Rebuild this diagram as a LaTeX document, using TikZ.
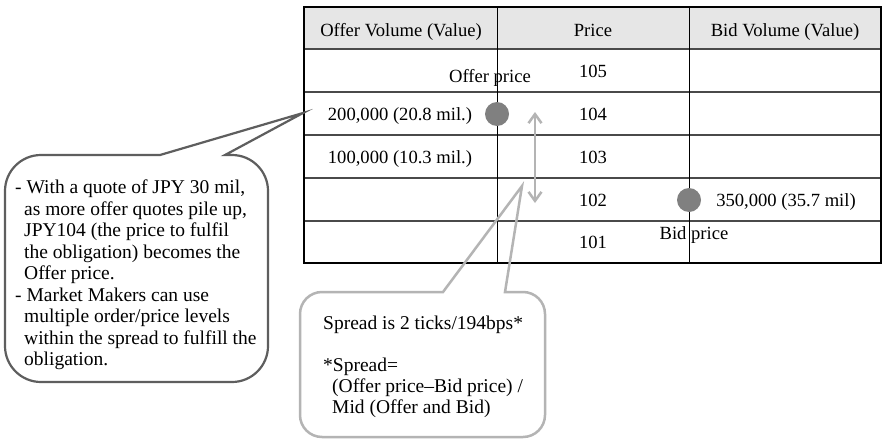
\documentclass[tikz,border=0pt]{standalone}
\usepackage{fontspec}
\setmainfont{Liberation Serif}[Ligatures=NoCommon]
\usetikzlibrary{arrows.meta}

\definecolor{hdrgrey}{HTML}{E6E6E6}
\definecolor{dotgrey}{HTML}{808080}
\definecolor{sprgrey}{HTML}{B4B4B4}
\definecolor{callgrey}{HTML}{5E5E5E}
\definecolor{rulegrey}{HTML}{4A4A4A}

\tikzset{
  cell/.style={anchor=base, inner sep=0pt, font=\fontsize{18.6}{22}\selectfont},
  dot/.style={circle, fill=dotgrey, draw=none, minimum size=24pt, inner sep=0pt},
  rowrule/.style={draw=rulegrey, line width=1.4pt},
  colrule/.style={draw=black, line width=0.9pt},
  frame/.style={draw=black, line width=1.2pt},
  lcall/.style={draw=callgrey, line width=2.2pt, line join=miter},
  scall/.style={draw=sprgrey, line width=2.5pt, line join=miter},
  sparrow/.style={draw=sprgrey, line width=2.5pt,
    {Straight Barb[length=9pt,width=13pt]}-{Straight Barb[length=9pt,width=13pt]}},
  % multi-line nodes: the base anchor sits on the last line
  calltext/.style={anchor=base west, inner sep=0pt, align=left,
    font=\fontsize{19.5}{21.5}\selectfont},
  spreadtext/.style={anchor=base west, inner sep=0pt, align=left,
    font=\fontsize{19.5}{21}\selectfont},
}

\begin{document}
\begin{tikzpicture}[x=1pt, y=1pt]
  \useasboundingbox[fill=white] (0,0) rectangle (888,-439);

  % order book table
  \fill[hdrgrey] (304,-7) rectangle (881,-49);
  \foreach \yy in {49,92,135,178,221} {
    \draw[rowrule] (304,-\yy) -- (881,-\yy);
  }
  \draw[colrule] (497,-7) -- (497,-263);
  \draw[colrule] (689,-7) -- (689,-263);
  \draw[frame] (304,-7) rectangle (881,-263);

  % header
  \node[cell] (hoffer) at (401,-36) {Offer Volume (Value)};
  \node[cell] (hprice) at (593,-36) {Price};
  \node[cell] (hbid)   at (785,-36) {Bid Volume (Value)};

  % price ladder
  \node[cell] (p105) at (593,-77)  {105};
  \node[cell] (p104) at (593,-120) {104};
  \node[cell] (p103) at (593,-163) {103};
  \node[cell] (p102) at (593,-206) {102};
  \node[cell] (p101) at (593,-248) {101};

  % quotes
  \node[cell] (q104) at (400,-120) {200,000 (20.8 mil.)};
  \node[cell] (q103) at (400,-163) {100,000 (10.3 mil.)};
  \node[cell] (q102) at (786,-206) {350,000 (35.7 mil)};

  % best prices
  \node[cell] (offerlbl) at (490,-82)  {Offer price};
  \node[cell] (bidlbl)   at (694,-239) {Bid price};
  \node[dot] (offerdot) at (497,-114) {};
  \node[dot] (biddot)   at (689,-200) {};

  % spread arrow
  \coordinate (sprtop) at (535,-112);
  \coordinate (sprbot) at (535,-203);
  \draw[sparrow] (sprtop) -- (sprbot);

  % left callout
  \draw[lcall] (160,-155) -- (303,-113) -- (225,-155) -- (232,-155)
    arc[start angle=90, end angle=0, radius=36] -- (268,-346)
    arc[start angle=0, end angle=-90, radius=36] -- (41,-382)
    arc[start angle=270, end angle=180, radius=36] -- (5,-191)
    arc[start angle=180, end angle=90, radius=36] -- cycle;
  \node[calltext] (obligation) at (15,-365.5) {%
    - With a quote of JPY 30 mil,\\
    \hspace*{9pt}as more offer quotes pile up,\\
    \hspace*{9pt}JPY104 (the price to fulfil\\
    \hspace*{9pt}the obligation) becomes the\\
    \hspace*{9pt}Offer price.\\
    - Market Makers can use\\
    \hspace*{9pt}multiple order/price levels\\
    \hspace*{9pt}within the spread to fulfill the\\
    \hspace*{9pt}obligation.};

  % spread callout
  \draw[scall] (443,-292) -- (522,-186) -- (505,-292) -- (523,-292)
    arc[start angle=90, end angle=0, radius=22] -- (545,-415)
    arc[start angle=0, end angle=-90, radius=22] -- (322,-437)
    arc[start angle=270, end angle=180, radius=22] -- (300,-314)
    arc[start angle=180, end angle=90, radius=22] -- cycle;
  \node[spreadtext] (spreadnote) at (323,-413.5) {%
    Spread is 2 ticks/194bps*\\[21pt]
    *Spread=\\
    \hspace*{9pt}(Offer price–Bid price) /\\
    \hspace*{9pt}Mid (Offer and Bid)};
\end{tikzpicture}
\end{document}
